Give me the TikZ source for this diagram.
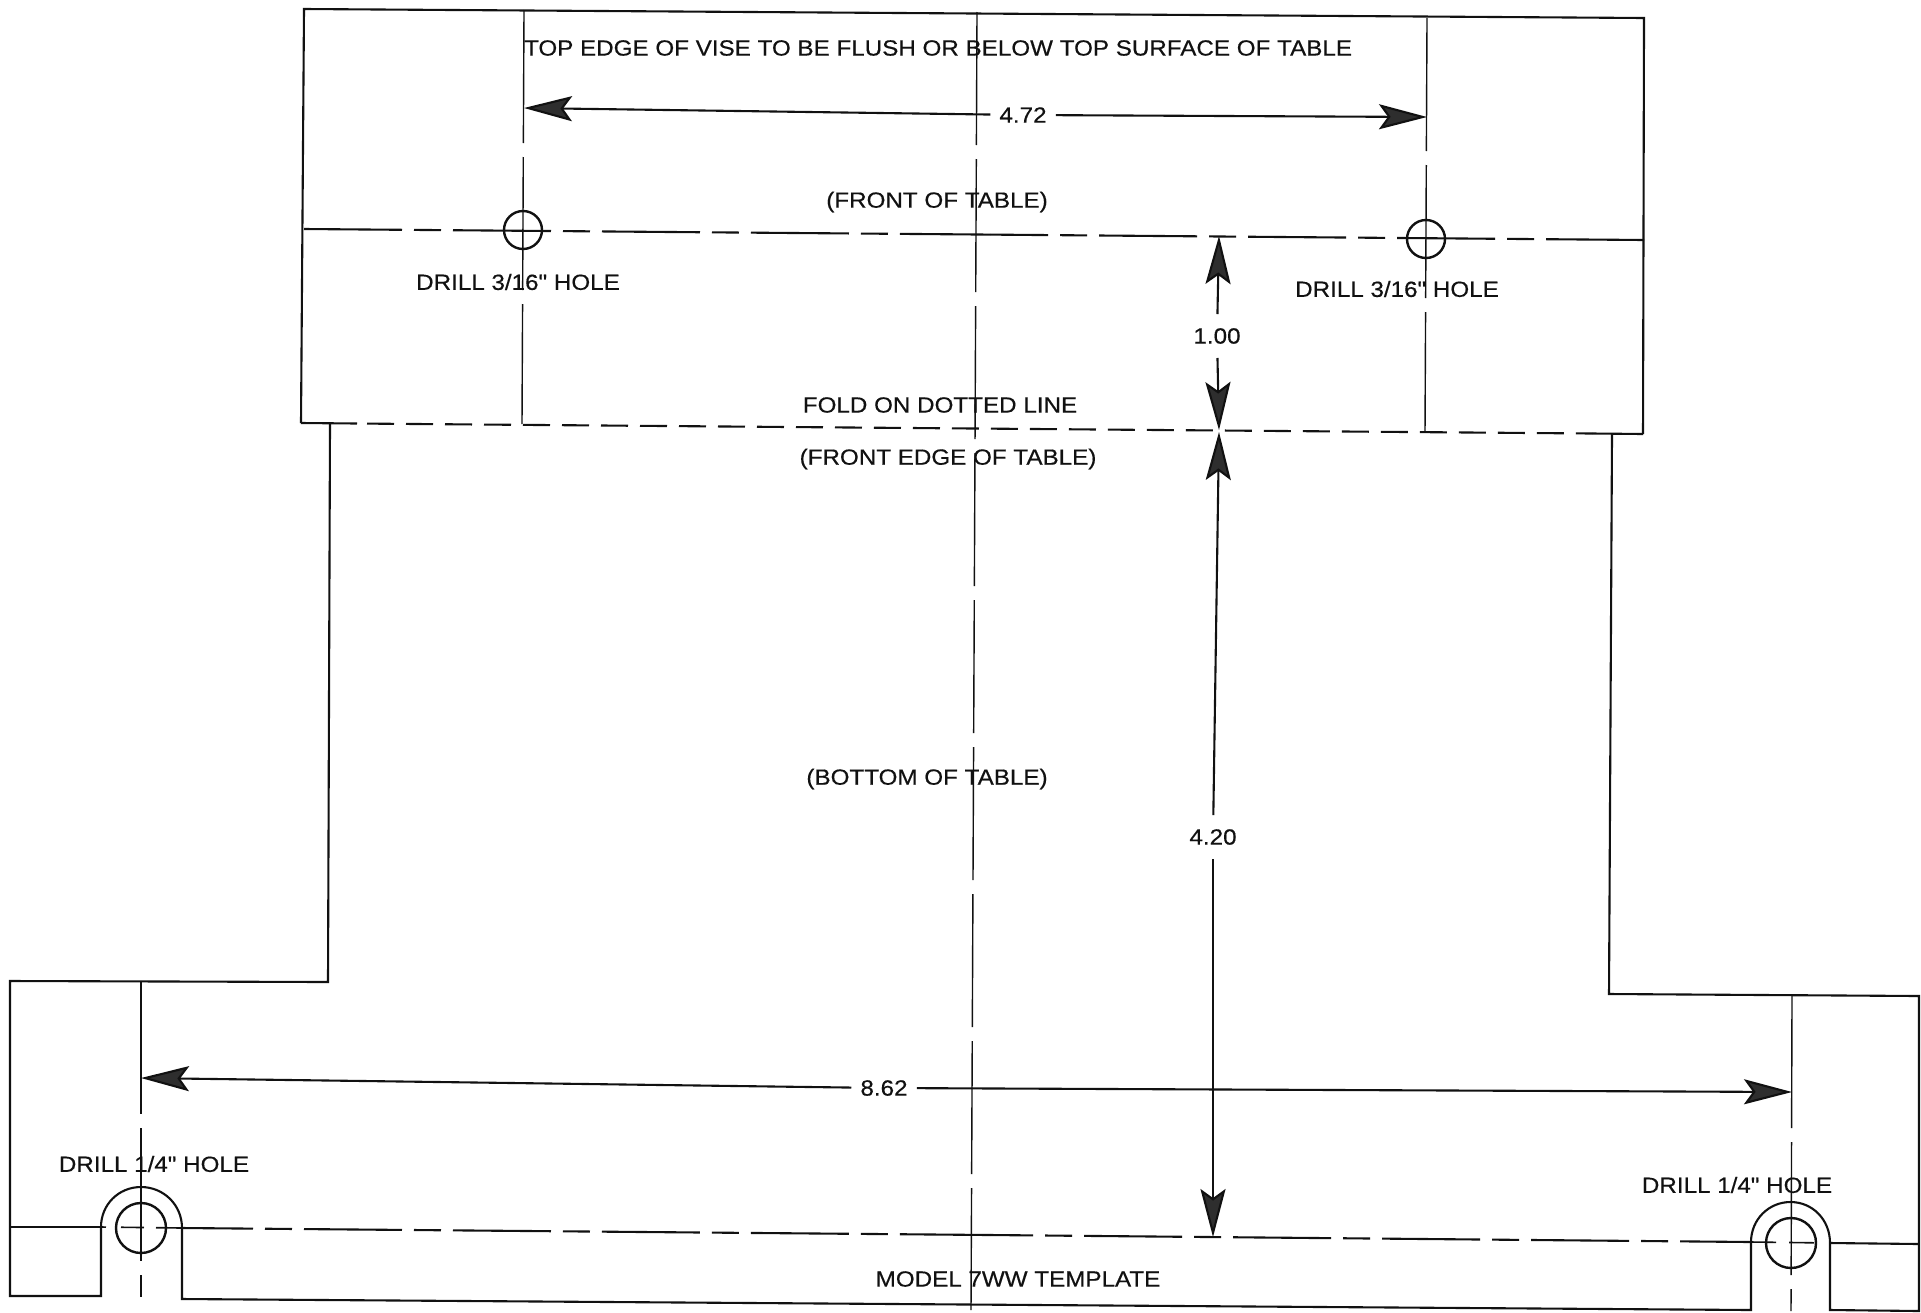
\documentclass[tikz,border=0pt]{standalone}
\usepackage{fontspec}
\setmainfont{Liberation Sans}[FakeStretch=1.1,FakeBold=0.45,Ligatures=TeXOff]
\usetikzlibrary{arrows.meta}
\definecolor{ink}{HTML}{111111}
\tikzset{
  outline/.style={draw=ink,line width=2.1pt,line join=miter},
  centreline/.style={draw=ink,line width=1.4pt,dash pattern=on 133pt off 14pt},
  longshort/.style={draw=ink,line width=2.1pt,dash pattern=on 98pt off 12pt on 27pt off 12pt},
  longshortcut/.style={draw=ink,line width=2.1pt,dash pattern=on 98pt off 12pt on 27pt off 12pt,dash phase=27pt},
  foldline/.style={draw=ink,line width=2.1pt,dash pattern=on 27pt off 12pt},
  innerline/.style={draw=ink,line width=1.6pt},
  dimline/.style={draw=ink,line width=2.1pt,-{Stealth[length=48pt,width=25pt,inset=9pt,fill=ink!88]}},
  hole/.style={circle,draw=ink,line width=2.4pt,inner sep=0pt},
  lbl/.style={inner sep=0pt,font=\fontsize{22}{26}\selectfont,text=ink},
  dimlbl/.style={inner xsep=9pt,inner ysep=14pt,font=\fontsize{22}{26}\selectfont,text=ink}
}
\begin{document}
\begin{tikzpicture}[x=1pt,y=-1pt]
\useasboundingbox[fill=white] (0,0) rectangle (1921,1312);
% reference points
\coordinate (tl) at (304,9);
\coordinate (tr) at (1644,18);
\coordinate (fl) at (301,423);
\coordinate (fr) at (1643,434);
\coordinate (flA) at (357,423.5);
\coordinate (flB) at (367,423.6);
\coordinate (frA) at (1592,433.5);
\coordinate (frontl) at (304,229);
\coordinate (frontr) at (1644,240);
\coordinate (frontm) at (990,234.6);
\coordinate (cA1) at (524,10);
\coordinate (cA2) at (522,424);
\coordinate (cB1) at (1427,18);
\coordinate (cB2) at (1425,432);
\coordinate (cM1) at (977,12);
\coordinate (cM2) at (971,1310);
\coordinate (cL1) at (141,981);
\coordinate (cL2) at (141,1297);
\coordinate (cR1) at (1792,995);
\coordinate (cR2) at (1791,1311);
\coordinate (botl) at (10,1227);
\coordinate (botm) at (182,1228);
\coordinate (botc) at (990,1235);
\coordinate (botn) at (1751,1242);
\coordinate (boto) at (1830,1243);
\coordinate (botr) at (1919,1244);
\coordinate (botk) at (101,1227);
% centre lines
\draw[centreline] (cA1) -- (cA2);
\draw[centreline] (cB1) -- (cB2);
\draw[centreline] (cM1) -- (cM2);
\draw[centreline] (cL1) -- (cL2);
\draw[centreline] (cR1) -- (cR2);
% outline
\draw[outline] (fl) -- (tl) -- (tr) -- (fr);
\draw[outline] (330,424) -- (328,982) -- (10,981) -- (10,1296) -- (101,1296) -- (botk)
  .. controls (101,1204.6) and (118.6,1187) .. (141,1187)
  .. controls (163.4,1187) and (182,1204.6) .. (botm)
  -- (182,1299) -- (1751,1310) -- (botn)
  .. controls (1751,1219.6) and (1768.6,1202) .. (1790.5,1202)
  .. controls (1812.4,1202) and (1830,1219.6) .. (boto)
  -- (1830,1310) -- (1919,1311) -- (1919,996) -- (1609,994) -- (1612,434);
% fold and hole lines
\draw[outline] (fl) -- (flA);
\draw[foldline] (flB) -- (frA);
\draw[outline] (frA) -- (fr);
\draw[longshort] (frontl) -- (frontm);
\draw[longshort] (frontr) -- (frontm);
\draw[outline] (botl) -- (botk);
\draw[longshortcut] (botm) -- (botc);
\draw[longshortcut] (botn) -- (botc);
\draw[outline] (boto) -- (botr);
\draw[innerline,dash pattern=on 5pt off 15pt on 23pt off 12pt on 27pt] (botk) -- (botm);
\draw[innerline,dash pattern=on 25pt off 13pt on 25pt off 15pt on 3pt] (botn) -- (boto);
% holes
\node[hole,minimum size=38pt] (hA) at (523,230) {};
\node[hole,minimum size=38pt] (hB) at (1426,239) {};
\node[hole,minimum size=50pt] (hL) at (141,1228) {};
\node[hole,minimum size=50pt] (hR) at (1791,1243) {};
% dimensions
\node[dimlbl] (d472) at (1023,115) {4.72};
\node[dimlbl] (d100) at (1217,336) {1.00};
\node[dimlbl] (d420) at (1213,837) {4.20};
\node[dimlbl] (d862) at (884,1088) {8.62};
\coordinate (a472l) at (524,108);
\coordinate (a472r) at (1427,117);
\coordinate (a100t) at (1219,236);
\coordinate (a100b) at (1219,430);
\coordinate (a420t) at (1219,432);
\coordinate (a420b) at (1213,1237);
\coordinate (a862l) at (141,1078);
\coordinate (a862r) at (1792,1092);
\draw[dimline] (d472) -- (a472l);
\draw[dimline] (d472) -- (a472r);
\draw[dimline] (d100) -- (a100t);
\draw[dimline] (d100) -- (a100b);
\draw[dimline] (d420) -- (a420t);
\draw[dimline] (d420) -- (a420b);
\draw[dimline] (d862) -- (a862l);
\draw[dimline] (d862) -- (a862r);
% labels
\node[lbl] (t1) at (938,48) {TOP EDGE OF VISE TO BE FLUSH OR BELOW TOP SURFACE OF TABLE};
\node[lbl] (t2) at (937,202) {(FRONT OF TABLE)};
\node[lbl] (t3) at (518,282) {DRILL 3/16" HOLE};
\node[lbl] (t4) at (1397,289) {DRILL 3/16" HOLE};
\node[lbl] (t5) at (940,405) {FOLD ON DOTTED LINE};
\node[lbl] (t6) at (948,459) {(FRONT EDGE OF TABLE)};
\node[lbl] (t7) at (927,779) {(BOTTOM OF TABLE)};
\node[lbl] (t8) at (154,1164) {DRILL 1/4" HOLE};
\node[lbl] (t9) at (1737,1185) {DRILL 1/4" HOLE};
\node[lbl] (t10) at (1018,1279) {MODEL 7WW TEMPLATE};
\end{tikzpicture}
\end{document}
